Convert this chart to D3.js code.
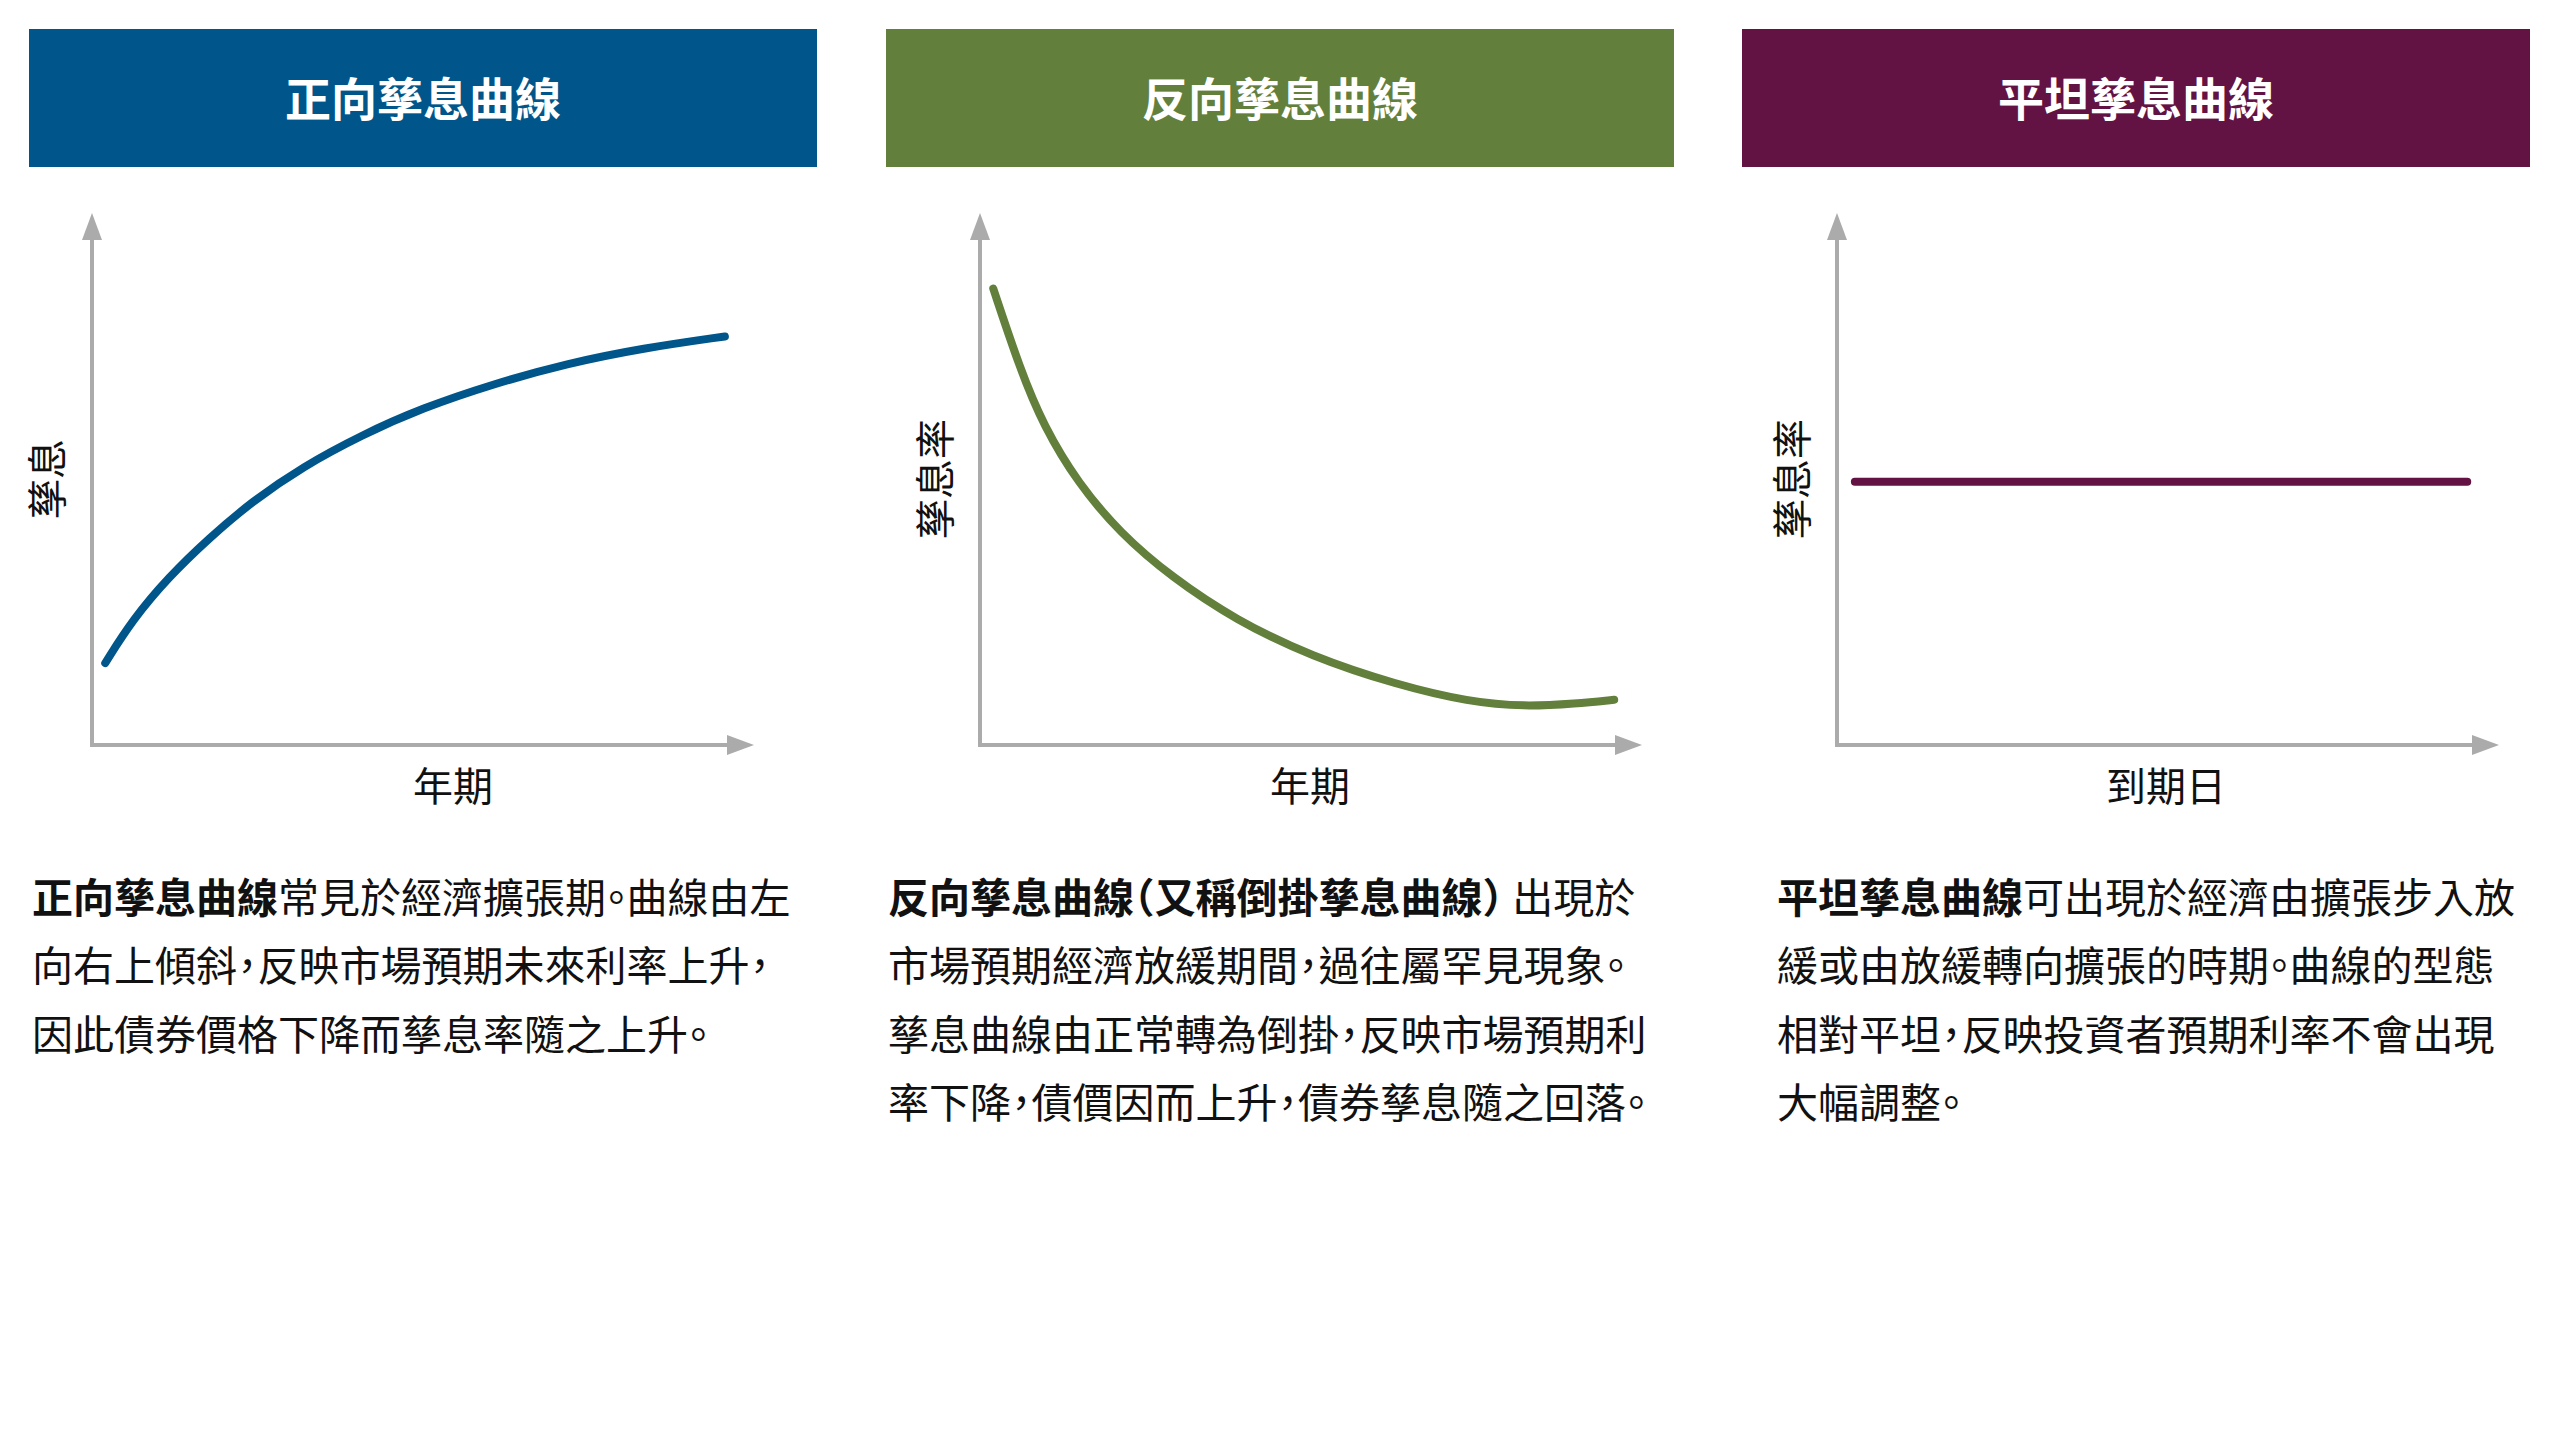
<!DOCTYPE html>
<html>
<head>
<meta charset="UTF-8">
<title>孳息曲線</title>
<script src="https://cdnjs.cloudflare.com/ajax/libs/d3/7.8.5/d3.min.js"></script>
<style>
  body { margin: 0; background: #fff; }
  svg text { font-family: "Noto Sans CJK TC", "Noto Sans CJK SC", sans-serif; fill: #111; }
  .para { font-feature-settings: "halt"; }
</style>
</head>
<body>
<script>
  // ---- data ----
  var titles = ["正向孳息曲線", "反向孳息曲線", "平坦孳息曲線"];
  var yLabels = ["孳息", "孳息率", "孳息率"];
  var xLabels = ["年期", "年期", "到期日"];

  // curve shapes, term (0-100) against yield (0-100)
  var normalTerm  = [2.0, 6.1, 11.6, 17.7, 24.1, 31.8, 40.8, 49.8, 60.7, 71.7, 83.2, 95.6];
  var normalYield = [15.4, 23.5, 31.6, 38.9, 45.7, 52.3, 58.3, 63.3, 67.9, 71.7, 74.6, 76.8];
  var invertedTerm  = [2.0, 6.1, 9.6, 14.8, 21.2, 28.9, 38.6, 50.1, 63.0, 73.9, 82.3, 90.0, 95.8];
  var invertedYield = [85.8, 70.5, 60.0, 49.2, 39.8, 31.6, 23.5, 16.6, 11.3, 8.1, 7.2, 7.8, 8.5];
  var flatTerm  = [2.7, 50, 95.2];
  var flatYield = [49.5, 49.5, 49.5];

  var leads = ["正向孳息曲線", "反向孳息曲線（又稱倒掛孳息曲線）", "平坦孳息曲線"];
  var paragraphs = [
    ["常見於經濟擴張期。曲線由左",
     "向右上傾斜，反映市場預期未來利率上升，",
     "因此債券價格下降而孳息率隨之上升。"],
    [" 出現於",
     "市場預期經濟放緩期間，過往屬罕見現象。",
     "孳息曲線由正常轉為倒掛，反映市場預期利",
     "率下降，債價因而上升，債券孳息隨之回落。"],
    ["可出現於經濟由擴張步入放",
     "緩或由放緩轉向擴張的時期。曲線的型態",
     "相對平坦，反映投資者預期利率不會出現",
     "大幅調整。"]
  ];

  var curves = [
    d3.zip(normalTerm, normalYield),
    d3.zip(invertedTerm, invertedYield),
    d3.zip(flatTerm, flatYield)
  ];

  // ---- layout ----
  var colors = ["#00568a", "#62803c", "#621243"];
  var W = 2560, H = 1440;
  var panelLeft = [29, 886, 1742], panelW = 788;
  var axisLeft = [63, 94, 95];       // axis origin inside each panel
  var textLeft = [3, 2, 35];
  var axisLen = 662, y0 = 745, y1 = 213;

  var svg = d3.select("body").append("svg")
    .attr("width", W).attr("height", H);

  titles.forEach(function(t, i) {
    var g = svg.append("g").attr("transform", "translate(" + panelLeft[i] + ",0)");

    g.append("rect")
      .attr("x", 0).attr("y", 29)
      .attr("width", panelW).attr("height", 138)
      .attr("fill", colors[i]);
    g.append("text")
      .attr("x", panelW / 2).attr("y", 96)
      .attr("text-anchor", "middle")
      .attr("dominant-baseline", "central")
      .style("font-size", "46px").style("font-weight", 700)
      .style("fill", "#fff")
      .text(t);

    var ox = axisLeft[i];
    var x = d3.scaleLinear().domain([0, 100]).range([ox, ox + axisLen]);
    var y = d3.scaleLinear().domain([0, 100]).range([y0, y1]);

    // axes with arrow heads
    var ax = g.append("g").attr("fill", "#ababab").attr("stroke", "#ababab");
    ax.append("line")
      .attr("x1", x(0)).attr("y1", y(0) + 2)
      .attr("x2", x(0)).attr("y2", y(100) + 20)
      .attr("stroke-width", 4);
    ax.append("line")
      .attr("x1", x(0) - 2).attr("y1", y(0))
      .attr("x2", x(100) - 20).attr("y2", y(0))
      .attr("stroke-width", 4);
    ax.append("path")
      .attr("stroke", "none")
      .attr("d", "M" + x(0) + "," + y(100) + "l-10,27h20z");
    ax.append("path")
      .attr("stroke", "none")
      .attr("d", "M" + x(100) + "," + y(0) + "l-27,-10v20z");

    g.append("path")
      .datum(curves[i])
      .attr("fill", "none")
      .attr("stroke", colors[i])
      .attr("stroke-width", 8)
      .attr("stroke-linecap", "round")
      .attr("d", d3.line()
        .x(function(d) { return x(d[0]); })
        .y(function(d) { return y(d[1]); })
        .curve(d3.curveBasis));

    g.append("text")
      .attr("transform", "translate(" + (ox - 47) + "," + y(50) + ") rotate(-90)")
      .attr("text-anchor", "middle")
      .attr("dominant-baseline", "central")
      .style("font-size", "40px")
      .text(yLabels[i]);
    g.append("text")
      .attr("x", 424).attr("y", 784)
      .attr("text-anchor", "middle")
      .attr("dominant-baseline", "central")
      .style("font-size", "40px")
      .text(xLabels[i]);

    // description
    var para = g.append("text").attr("class", "para")
      .style("font-size", "41px");
    paragraphs[i].forEach(function(line, k) {
      var tl = para.append("tspan")
        .attr("x", textLeft[i]).attr("y", 895 + k * 68.3)
        .attr("dominant-baseline", "central");
      if (k === 0) {
        tl.append("tspan").style("font-weight", 700).text(leads[i]);
        tl.append("tspan").text(line);
      } else {
        tl.text(line);
      }
    });
  });
</script>
</body>
</html>
